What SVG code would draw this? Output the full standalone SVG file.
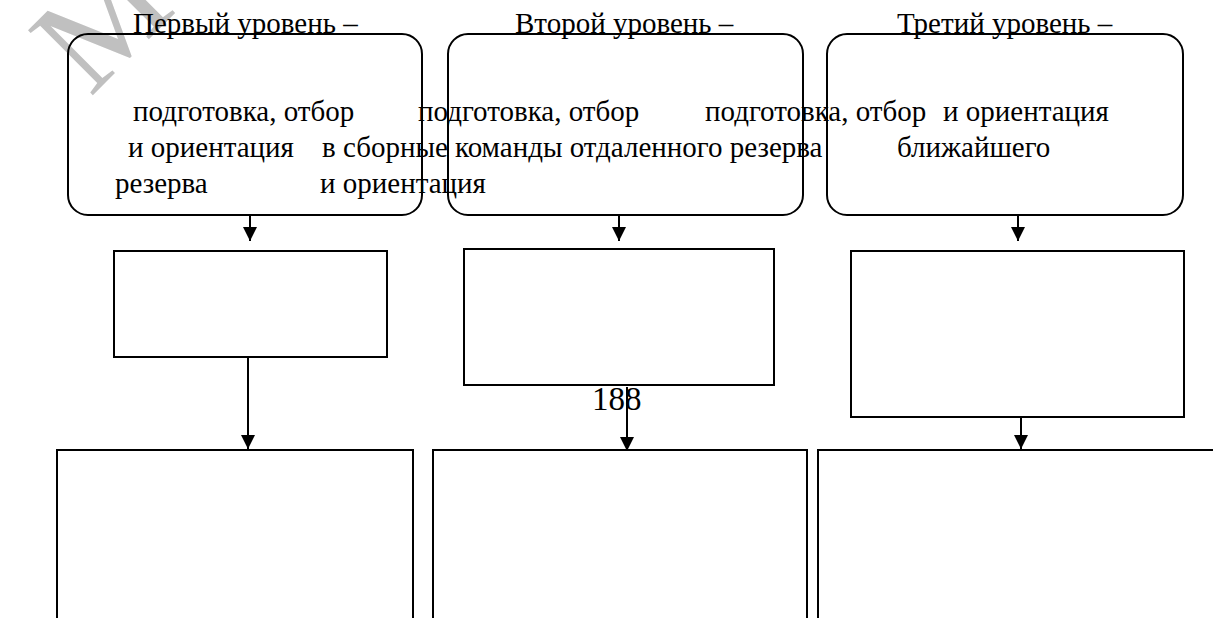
<svg xmlns="http://www.w3.org/2000/svg" width="1213" height="618" viewBox="0 0 1213 618">
<style>
.box{fill:none;stroke:#000;stroke-width:2}
.t{font-family:"Liberation Serif","Times New Roman",serif;font-size:29px;fill:#000}
.wm{font-family:"Liberation Serif","Times New Roman",serif;font-size:140px;fill:#c0c0c0}
.con{stroke:#000;stroke-width:2;fill:none}
</style>
<defs>
<marker id="ah" markerUnits="userSpaceOnUse" markerWidth="14" markerHeight="15" refX="14" refY="7" orient="auto">
<path d="M0,0 L14,7 L0,14 Z" fill="#000"/>
</marker>
</defs>
<rect width="1213" height="618" fill="#fff"/>
<text class="wm" transform="translate(90,98) rotate(-45)">М</text>
<g id="level1">
<rect class="box" x="68" y="34" width="354" height="181" rx="20"/>
<text class="t" x="133" y="33">Первый уровень –</text>
</g>
<g id="level2">
<rect class="box" x="448" y="34" width="355" height="181" rx="20"/>
<text class="t" x="515" y="33">Второй уровень –</text>
</g>
<g id="level3">
<rect class="box" x="827" y="34" width="356" height="181" rx="20"/>
<text class="t" x="897" y="33">Третий уровень –</text>
</g>
<g id="flowtext">
<text class="t" x="133" y="121">подготовка, отбор</text>
<text class="t" x="418" y="121">подготовка, отбор</text>
<text class="t" x="705" y="121">подготовка, отбор</text>
<text class="t" x="943" y="121">и ориентация</text>
<text class="t" x="128" y="157">и ориентация</text>
<text class="t" x="322" y="157">в сборные команды отдаленного резерва</text>
<text class="t" x="897" y="157">ближайшего</text>
<text class="t" x="115" y="193">резерва</text>
<text class="t" x="320" y="193">и ориентация</text>
</g>
<g id="box1b"><rect class="box" x="114" y="251" width="273" height="106"/></g>
<g id="box2b"><rect class="box" x="464" y="249" width="310" height="136"/></g>
<g id="box3b"><rect class="box" x="851" y="251" width="333" height="166"/></g>
<g id="box1c"><rect class="box" x="57" y="450" width="356" height="180"/></g>
<g id="box2c"><rect class="box" x="433" y="450" width="374" height="180"/></g>
<g id="box3c"><rect class="box" x="818" y="450" width="410" height="180"/></g>
<g id="pagenum"><text class="t" x="592" y="410" style="font-size:33px">188</text></g>
<g id="connectors">
<line class="con" x1="250" y1="215" x2="250" y2="241" marker-end="url(#ah)"/>
<line class="con" x1="619" y1="215" x2="619" y2="241" marker-end="url(#ah)"/>
<line class="con" x1="1018" y1="215" x2="1018" y2="241" marker-end="url(#ah)"/>
<line class="con" x1="248" y1="357" x2="248" y2="449" marker-end="url(#ah)"/>
<line class="con" x1="627" y1="387" x2="627" y2="451" marker-end="url(#ah)"/>
<line class="con" x1="1021" y1="417" x2="1021" y2="449" marker-end="url(#ah)"/>
</g>
</svg>
